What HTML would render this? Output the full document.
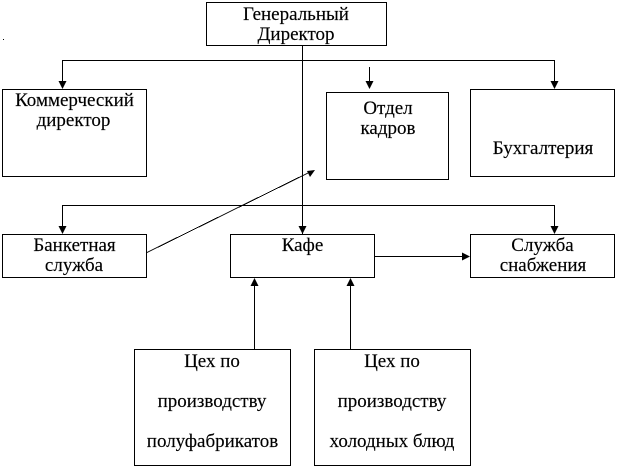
<!DOCTYPE html>
<html lang="ru">
<head>
<meta charset="utf-8">
<style>
html,body{margin:0;padding:0;background:#fff;width:618px;height:469px;overflow:hidden}
svg{display:block}
text{font-family:"Liberation Serif","Noto Serif CJK SC",serif;font-size:19px;fill:#000;stroke:#000;stroke-width:0.15px;text-anchor:middle}
.b{fill:#fff;stroke:#000;stroke-width:1}
.l{fill:none;stroke:#000;stroke-width:1}
</style>
</head>
<body>
<svg width="618" height="469" viewBox="0 0 618 469" xmlns="http://www.w3.org/2000/svg">
<rect x="3" y="39" width="1" height="1" fill="#000"/>

<g shape-rendering="crispEdges">
<rect class="b" x="206.5" y="2.5" width="180" height="43"/>
<rect class="b" x="2.5" y="89.5" width="144" height="87"/>
<rect class="b" x="326.5" y="92.5" width="122" height="87"/>
<rect class="b" x="470.5" y="89.5" width="144" height="87"/>
<rect class="b" x="2.5" y="234.5" width="144" height="43"/>
<rect class="b" x="230.5" y="234.5" width="144" height="43"/>
<rect class="b" x="470.5" y="234.5" width="144" height="43"/>
<rect class="b" x="134.5" y="349.5" width="156" height="116"/>
<rect class="b" x="314.5" y="349.5" width="156" height="116"/>

<path class="l" d="M302.5 45V234M62.5 82V60.5H554.5V82M369.5 67V82M62.5 227V205.5H554.5V227M254.5 349V285M350.5 349V285M374 256.5H462"/>
<line x1="146" y1="253" x2="308" y2="173" stroke="#000" stroke-width="1"/>
</g>

<g fill="#000">
<polygon points="58.5,81 66.5,81 62.5,89"/>
<polygon points="550.5,81 558.5,81 554.5,89"/>
<polygon points="365.5,81 373.5,81 369.5,89"/>
<polygon points="58.5,226 66.5,226 62.5,234"/>
<polygon points="550.5,226 558.5,226 554.5,234"/>
<polygon points="298.5,226 306.5,226 302.5,234"/>
<polygon points="250.5,286 258.5,286 254.5,278"/>
<polygon points="346.5,286 354.5,286 350.5,278"/>
<polygon points="462,252.5 462,260.5 470,256.5"/>
<polygon points="307,171 315,170 310,177"/>
</g>

<text x="296" y="20">Генеральный</text>
<text x="296" y="40">Директор</text>
<text x="74.5" y="106">Коммерческий</text>
<text x="73.5" y="126">директор</text>
<text x="388" y="114">Отдел</text>
<text x="388" y="134">кадров</text>
<text x="543" y="154">Бухгалтерия</text>
<text x="74.5" y="251">Банкетная</text>
<text x="74" y="271">служба</text>
<text x="302.5" y="251">Кафе</text>
<text x="542.5" y="251">Служба</text>
<text x="543" y="271">снабжения</text>
<text x="212" y="367">Цех по</text>
<text x="212" y="407">производству</text>
<text x="212.5" y="447">полуфабрикатов</text>
<text x="392" y="367">Цех по</text>
<text x="392" y="407">производству</text>
<text x="392" y="447">холодных блюд</text>
</svg>
</body>
</html>
